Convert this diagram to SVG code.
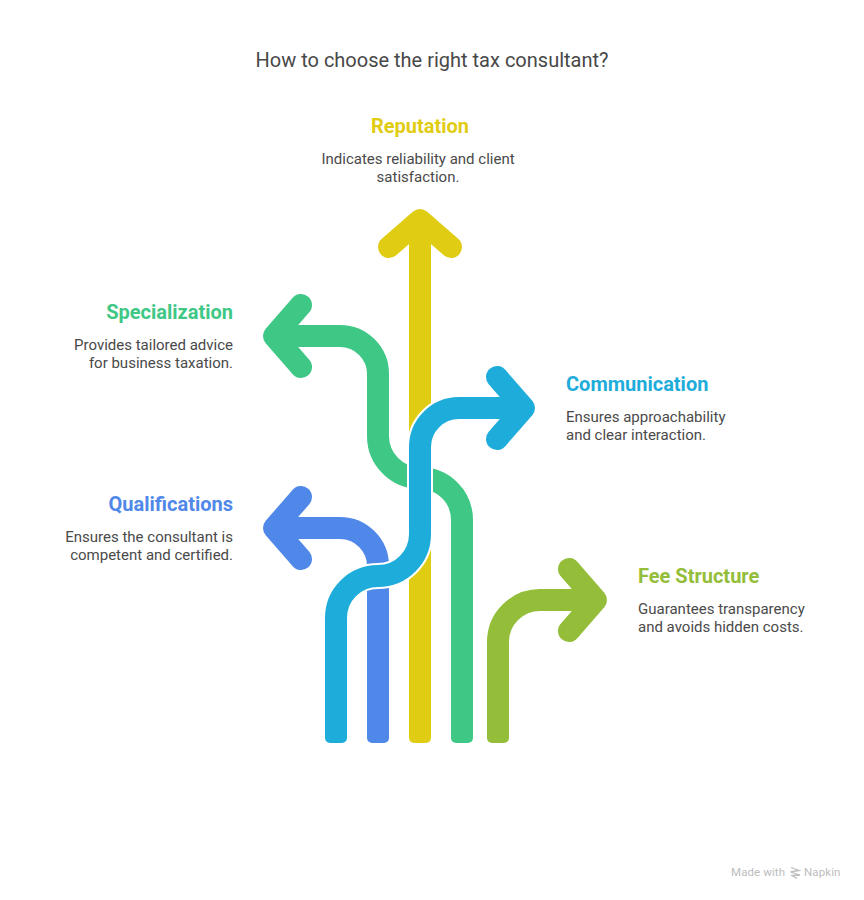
<svg xmlns="http://www.w3.org/2000/svg" width="864" height="900" viewBox="0 0 864 900">
<style>
text{font-family:Roboto,"Liberation Sans",sans-serif}
.s{fill:none;stroke-width:22;stroke-linecap:butt;stroke-linejoin:round}
.h{fill:none;stroke-width:22;stroke-linecap:round;stroke-linejoin:round}
.t{font-size:20px;font-weight:700}
.d{font-size:15px;fill:#4a4a4a}
.e{text-anchor:end}
.m{text-anchor:middle}
</style>
<rect width="864" height="900" fill="#fff"/>
<text id="title" x="432" y="67" class="m" font-size="20" fill="#484848">How to choose the right tax consultant?</text>
<g id="connectors">
<g id="arrow-reputation" stroke="#E1CC14">
<rect x="409" y="725" width="22" height="18" rx="5" fill="#E1CC14" stroke="none"/>
<path class="s" d="M420 735V225"/>
<polyline class="h" points="389,247 420,220 451,247"/>
</g>
<g id="arrow-specialization" stroke="#3EC785">
<rect x="451" y="725" width="22" height="18" rx="5" fill="#3EC785" stroke="none"/>
<path class="s" d="M462 735V520A42 42 0 0 0 420 478A42 42 0 0 1 378 436V374A38 38 0 0 0 340 336H280"/>
<polyline class="h" points="301,305 274,336 301,367"/>
</g>
<g id="arrow-qualifications" stroke="#4F88E8">
<rect x="367" y="725" width="22" height="18" rx="5" fill="#4F88E8" stroke="none"/>
<path class="s" d="M378 735V566A38 38 0 0 0 340 528H280"/>
<polyline class="h" points="301,497 274,528 301,559"/>
</g>
<g id="arrow-communication">
<path d="M336 735V618A42 42 0 0 1 378 576A42 42 0 0 0 420 534V447A39 39 0 0 1 459 408H500" fill="none" stroke="#fff" stroke-width="26"/>
<g stroke="#1EACDB">
<rect x="325" y="725" width="22" height="18" rx="5" fill="#1EACDB" stroke="none"/>
<path class="s" d="M336 735V618A42 42 0 0 1 378 576A42 42 0 0 0 420 534V447A39 39 0 0 1 459 408H518"/>
<polyline class="h" points="497,377 524,408 497,439"/>
</g>
</g>
<g id="arrow-fee" stroke="#94BE3A">
<rect x="487" y="725" width="22" height="18" rx="5" fill="#94BE3A" stroke="none"/>
<path class="s" d="M498 735V642A42 42 0 0 1 540 600H590"/>
<polyline class="h" points="569,569 596,600 569,631"/>
</g>
</g>
<g id="node-reputation">
<text x="420" y="133" class="t m" fill="#E1CC14">Reputation</text>
<text x="418" y="164" class="d m">Indicates reliability and client</text>
<text x="418" y="182" class="d m">satisfaction.</text>
</g>
<g id="node-specialization">
<text x="233" y="319" class="t e" fill="#3EC785">Specialization</text>
<text x="233" y="350" class="d e">Provides tailored advice</text>
<text x="233" y="368" class="d e">for business taxation.</text>
</g>
<g id="node-communication">
<text x="566" y="391" class="t" fill="#1EACDB">Communication</text>
<text x="566" y="422" class="d">Ensures approachability</text>
<text x="566" y="440" class="d">and clear interaction.</text>
</g>
<g id="node-qualifications">
<text x="233" y="511" class="t e" fill="#4F88E8">Qualifications</text>
<text x="233" y="542" class="d e">Ensures the consultant is</text>
<text x="233" y="560" class="d e">competent and certified.</text>
</g>
<g id="node-fee">
<text x="638" y="583" class="t" fill="#94BE3A">Fee Structure</text>
<text x="638" y="614" class="d">Guarantees transparency</text>
<text x="638" y="632" class="d">and avoids hidden costs.</text>
</g>
<g id="watermark">
<text x="731" y="876" font-size="11.5" letter-spacing="0.1" fill="#bdbdbd">Made with</text>
<path d="M791 867.5L799 870.5L790.5 872L800 875L792 875.5L797 878.5" fill="none" stroke="#bdbdbd" stroke-width="1.3"/>
<text x="804" y="876" font-size="11.5" letter-spacing="0.1" fill="#bdbdbd">Napkin</text>
</g>
</svg>
